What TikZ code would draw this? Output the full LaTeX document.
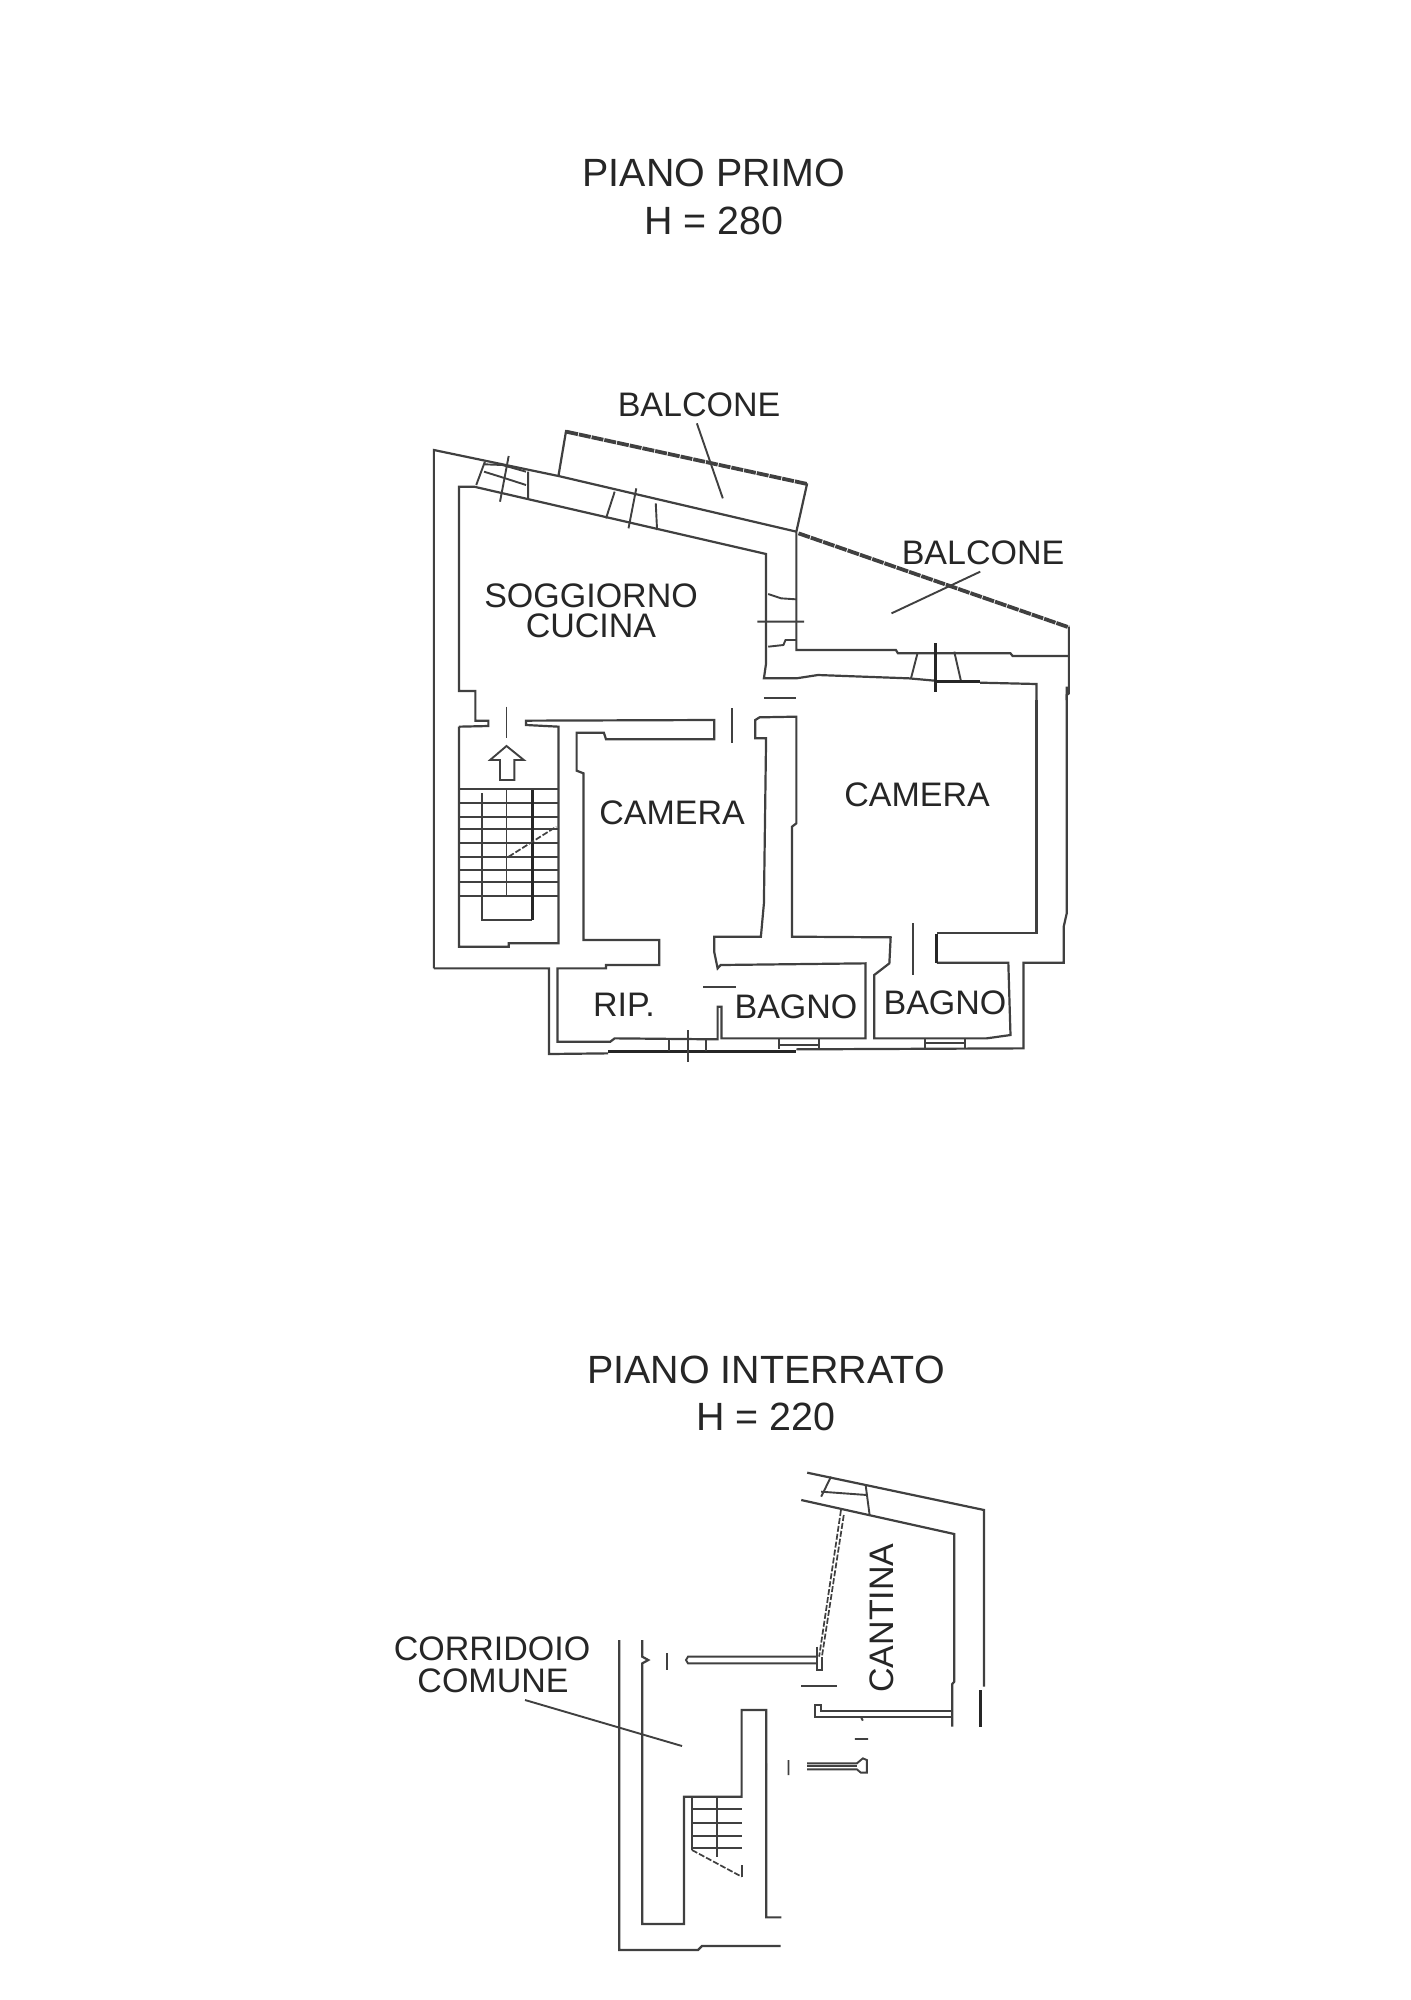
\documentclass[tikz,border=0pt]{standalone}
\usepackage{fontspec}
\setmainfont{Liberation Sans}
\definecolor{ink}{gray}{0.25}
\tikzset{
  wall/.style={draw=ink,line width=1.1pt,line join=miter},
  heavy/.style={draw=black!85,line width=1.5pt},
  thinl/.style={draw=ink,line width=0.95pt},
  rail/.style={draw=ink,line width=1.9pt,dash pattern=on 6pt off 0.5pt},
  railb/.style={draw=ink,line width=0.85pt,dash pattern=on 3pt off 1pt},
  title/.style={font=\fontsize{19.7}{22}\selectfont,text=black!85,inner sep=0pt},
  lbl/.style={font=\fontsize{17}{20}\selectfont,text=black!85,inner sep=0pt},
}
\begin{document}
\begin{tikzpicture}[x=0.5pt,y=-0.5pt]
\useasboundingbox[fill=white] (0,0) rectangle (1411,2000);
% ---- upper plan, upper part
\begin{scope}[shift={(420,370)},x=0.2163pt,y=-0.16667pt]
 \draw[wall] (32,865+930) -- (32,240) -- (320,318) -- (870,485);
 \draw[wall] (320,318) -- (338,180);
 \draw[wall] (895,340) -- (870,485) -- (870,840) -- (1100,840) -- (1105,850) -- (1365,850) -- (1370,858) -- (1498,858);
 \draw[rail] (338,185) -- (895,342);
 \draw[rail] (875,490) -- (1500,772);
 \draw[wall] (1500,770) -- (1500,970) -- (1495,975) -- (1495,990);
 \draw[wall] (90,1070) -- (158,1068) -- (158,1052) -- (128,1052) -- (128,963) -- (90,963) -- (90,350) -- (125,350) -- (800,552) -- (800,880) -- (795,925) -- (870,925) -- (920,915) -- (1130,925) -- (1190,932);
 \draw[heavy] (1190,935) -- (1295,935);
 \draw[heavy] (1192,820) -- (1192,965);
 \draw[wall] (1295,938) -- (1425,942) -- (1425,1000);
 \draw[thinl] (150,275) -- (130,345) (205,258) -- (185,395) (250,305) -- (250,385)
   (148,305) -- (190,322) -- (245,345) (150,283) -- (190,285) -- (245,305);
 \draw[thinl] (450,365) -- (430,445) (500,355) -- (482,475) (545,400) -- (548,480);
 \draw[thinl] (1150,850) -- (1135,925) (1235,845) -- (1250,930);
 \draw[thinl] (805,672) -- (835,685) -- (870,688) (780,755) -- (888,755)
   (805,830) -- (840,825) -- (845,810) -- (870,810);
 \draw[wall] (795,983) -- (870,983);
 \draw[thinl] (200,1010) -- (200,1105) (722,1015) -- (722,1120);
 \draw[thinl] (640,160) -- (700,385) (1295,605) -- (1090,730);
\end{scope}
% ---- upper plan, lower part
\begin{scope}[shift={(420,680)},x=0.2163pt,y=-0.16667pt]
 \draw[wall] (1495,20) -- (1495,700) -- (1488,740) -- (1488,848) -- (1395,848) -- (1395,1105) -- (870,1108);
 \draw[wall] (435,1120) -- (298,1122) -- (298,865) -- (32,865);
 \draw[heavy] (435,1115) -- (870,1115);
 \draw[wall] (90,140) -- (90,800) -- (205,800) -- (205,790) -- (320,790) -- (320,140) -- (245,135) -- (245,122) -- (680,120) -- (680,178) -- (430,178) -- (425,158) -- (362,158) -- (362,272) -- (378,280) -- (378,780) -- (553,780) -- (553,855) -- (430,855) -- (430,865) -- (318,865) -- (318,1085) -- (440,1085) -- (450,1075) -- (688,1078) -- (688,980) -- (697,980) -- (697,1075) -- (1030,1075) -- (1030,850) -- (695,855) -- (688,865) -- (680,815) -- (680,770) -- (788,770) -- (795,670) -- (800,175) -- (775,175) -- (775,120) -- (785,112) -- (870,110) -- (870,430) -- (860,440) -- (860,770) -- (1088,772) -- (1085,850) -- (1050,885) -- (1050,1075) -- (1310,1075) -- (1365,1065) -- (1360,848) -- (1195,848);
 \draw[heavy] (1195,848) -- (1195,762);
 \draw[wall] (1195,760) -- (1425,760) -- (1425,60);
 \draw[thinl] (1140,730) -- (1140,885);
 \draw[wall] (655,922) -- (730,922);
 \draw[thinl] (200,198) -- (240,240) -- (218,240) -- (218,300) -- (185,300) -- (185,240) -- (162,240) -- cycle;
 \foreach \yy in {328,368,410,447,490,530,570,607,648} \draw[thinl] (90,\yy) -- (318,\yy);
 \draw[thinl] (143,340) -- (143,720) -- (260,720);
 \draw[heavy] (260,720) -- (260,330);
 \draw[thinl] (200,330) -- (200,648);
 \draw[railb] (205,530) -- (315,440);
 \draw[thinl] (575,1078) -- (575,1112) (662,1078) -- (662,1112) (620,1050) -- (620,1145)
   (830,1075) -- (830,1108) (922,1075) -- (922,1108) (830,1095) -- (922,1095)
   (1168,1075) -- (1168,1108) (1260,1075) -- (1260,1108) (1168,1090) -- (1260,1090);
\end{scope}
% ---- basement plan
\begin{scope}[shift={(380,1460)},x=0.1987pt,y=-0.16667pt]
 \draw[wall] (1075,38) -- (1520,150) -- (1520,680);
 \draw[wall] (1060,120) -- (1445,222) -- (1445,665) -- (1440,672) -- (1440,800);
 \draw[heavy] (1512,690) -- (1512,800);
 \draw[thinl] (1135,50) -- (1110,110) (1222,75) -- (1232,165) (1110,95) -- (1225,105);
 \draw[railb] (1160,150) -- (1105,590);
 \draw[railb] (1167,165) -- (1112,590);
 \draw[thinl] (1100,560) -- (1100,630) -- (1112,630) -- (1112,590);
 \draw[thinl] (1100,590) -- (775,590) -- (770,600) -- (775,610) -- (1100,610);
 \draw[thinl] (722,580) -- (722,630) (1060,677) -- (1150,677);
 \draw[wall] (602,540) -- (602,1470) -- (800,1470) -- (810,1458) -- (1008,1458);
 \draw[wall] (660,540) -- (660,590) -- (675,600) -- (660,610) -- (660,1392) -- (765,1392) -- (765,1010) -- (910,1010) -- (910,750) -- (972,750) -- (972,1372) -- (1010,1372);
 \draw[wall] (1440,752) -- (1110,752) -- (1110,735) -- (1095,735) -- (1095,770) -- (1440,770);
 \draw[thinl] (1210,770) -- (1215,782) (1195,837) -- (1228,837) (1028,900) -- (1028,945) (972,910) -- (972,930);
 \draw[thinl] (1075,910) -- (1200,910) -- (1215,895) -- (1225,900) -- (1225,938) -- (1210,938) -- (1200,928) -- (1075,928);
 \draw[wall] (1075,919) -- (1200,919);
 \foreach \yy in {1048,1088,1128,1165} \draw[thinl] (785,\yy) -- (910,\yy);
 \draw[thinl] (785,1010) -- (785,1170) (848,1010) -- (848,1190) (910,1215) -- (910,1250);
 \draw[railb] (785,1170) -- (910,1250);
 \draw[thinl] (365,720) -- (760,858);
\end{scope}
% ---- labels
\node[title] (t1) at (714,173) {PIANO PRIMO};
\node[title] (t2) at (714,221) {H = 280};
\node[lbl] (b1) at (699,405) {BALCONE};
\node[lbl] (b2) at (983,553) {BALCONE};
\node[lbl] (s1) at (591,596) {SOGGIORNO};
\node[lbl] (s2) at (591,626) {CUCINA};
\node[lbl] (c1) at (672,813) {CAMERA};
\node[lbl] (c2) at (917,795) {CAMERA};
\node[lbl] (r1) at (624,1005) {RIP.};
\node[lbl] (g1) at (796,1007) {BAGNO};
\node[lbl] (g2) at (945,1003) {BAGNO};
\node[title] (t3) at (766,1370) {PIANO INTERRATO};
\node[title] (t4) at (766,1417) {H = 220};
\node[lbl] (k1) at (492,1649) {CORRIDOIO};
\node[lbl] (k2) at (493,1681) {COMUNE};
\node[lbl,rotate=90] (k3) at (882,1618) {CANTINA};
\end{tikzpicture}
\end{document}
